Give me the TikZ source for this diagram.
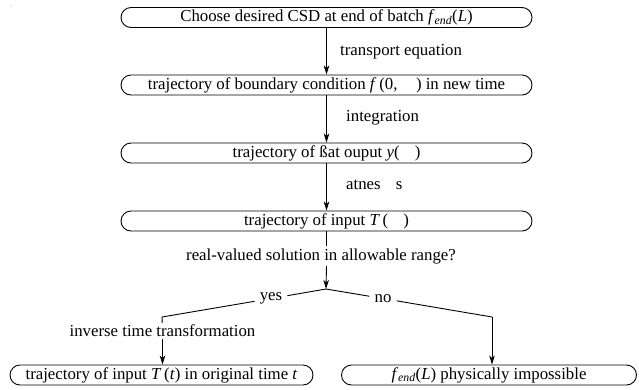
\documentclass[tikz,border=0pt]{standalone}
\usepackage{fontspec}
\setmainfont{Liberation Serif}
\usetikzlibrary{arrows.meta}

\newcommand{\fend}{\textit{f}\textsubscript{\textit{end}}}

\tikzset{
  stage/.style={draw, line width=0.9pt, rounded corners=10pt,
    minimum height=20pt, inner sep=0pt, font=\fontsize{16.8}{19}\selectfont},
  lbl/.style={inner sep=2pt, font=\fontsize{16.8}{19}\selectfont},
  side/.style={lbl, anchor=west},
  branch/.style={lbl, inner xsep=5pt},
  link/.style={line width=0.9pt},
  flow/.style={link, -{Stealth[length=9pt,width=5.5pt,inset=2.5pt]}},
}

\begin{document}
\begin{tikzpicture}[x=1pt, y=-1pt]
\useasboundingbox (0,0) rectangle (639,389);

% main chain of stages
\node[stage, minimum width=411pt] (s1) at (326.5,17.5)
  {Choose desired CSD at end of batch \fend(\textit{L})};
\node[stage, minimum width=411pt] (s2) at (326.5,85)
  {trajectory of boundary condition \textit{f}\,(0,\hspace{1.1em}) in new time};
\node[stage, minimum width=411pt] (s3) at (326.5,153)
  {trajectory of ßat ouput \textit{y}(\hspace{0.9em})};
\node[stage, minimum width=411pt] (s4) at (326.5,221)
  {trajectory of input \textit{T}\,(\hspace{0.9em})};

% outcome stages
\node[stage, minimum width=303pt] (s5) at (161.5,375)
  {trajectory of input \textit{T}\,(\textit{t}) in original time \textit{t}};
\node[stage, minimum width=295pt] (s6) at (489,375)
  {\fend(\textit{L}) physically impossible};

% step labels
\node[side] (l1) at (338,52) {transport equation};
\node[side] (l2) at (344,118) {integration};
\node[side] (l3) at (344,185) {atnes\hspace{0.9em}s};

\draw[flow] (s1) -- (s2);
\draw[flow] (s2) -- (s3);
\draw[flow] (s3) -- (s4);

% decision
\node[lbl] (q) at (321,256) {real-valued solution in allowable range?};
\coordinate (split) at (326,289);
\coordinate (cl) at (162,317);
\coordinate (cr) at (492,317);
\node[branch] (yes) at (271,298.5) {yes};
\node[branch] (no) at (383,298.5) {no};
\node[lbl] (inv) at (162.5,331) {inverse time transformation};

\draw[link] (s4.south) -- (s4.south |- q.north);
\draw[flow] (s4.south |- q.south) -- (split);
\draw[link] (split) -- (yes) -- (cl) -- (inv);
\draw[flow] (inv) -- (s5.north -| inv);
\draw[link] (split) -- (no) -- (cr);
\draw[flow] (cr) -- (s6.north -| cr);

% stray speck in the corner
\fill[gray] (11,6) circle (0.5pt);
\end{tikzpicture}
\end{document}
